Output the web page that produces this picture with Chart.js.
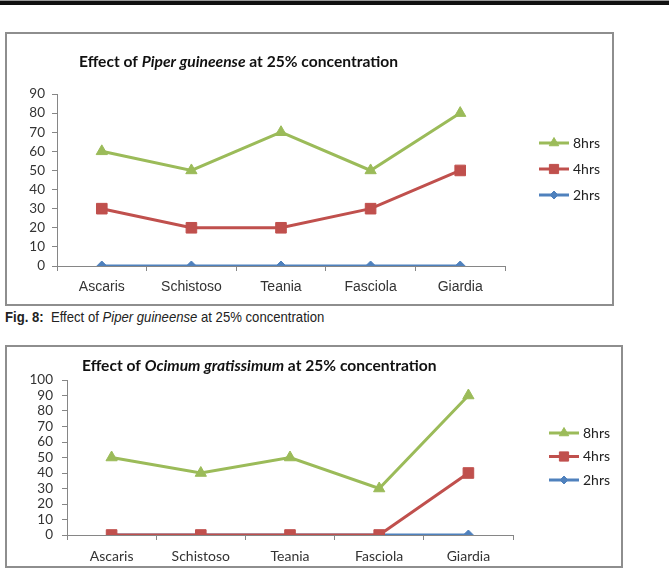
<!DOCTYPE html>
<html lang="en">
<head>
<meta charset="UTF-8" />
<title>Effect of Piper guineense and Ocimum gratissimum at 25% concentration</title>
<style>
  body {
    margin: 0;
    background: #fff;
    width: 669px; height: 571px;
    overflow: hidden;
    position: relative;
    font-family: Lato, sans-serif;
  }
  .rule {
    position: absolute; left: 0; top: 0;
    width: 669px; height: 5px;
    background: #111;
    border-top: 1px solid #9a9a9a;
    box-sizing: border-box;
  }
  .box {
    position: absolute;
    border: 2px solid #8e8e8e;
    box-sizing: border-box;
    background: #fff;
  }
  #box1 { left: 5px; top: 32px; width: 609px; height: 274px; }
  #box2 { left: 5px; top: 345px; width: 618px; height: 223px; }
  .box canvas { display: block; }
  /* the paper uses Arial Narrow; squeeze Liberation Sans to match */
  .caption {
    position: absolute; left: 5px; top: 308px;
    font-family: "Liberation Sans Narrow", "Arial Narrow", "Liberation Sans", sans-serif;
    font-size: 15px; line-height: 17px;
    color: #222;
    white-space: nowrap;
    transform: scaleX(0.875);
    transform-origin: left center;
  }
</style>
</head>
<body>
<div class="rule"></div>
<div class="box" id="box1"><canvas id="chart1" width="605" height="270"></canvas></div>
<div class="caption"><b>Fig. 8:</b>&nbsp; Effect of <i>Piper guineense</i> at 25% concentration</div>
<div class="box" id="box2"><canvas id="chart2" width="614" height="219"></canvas></div>

<script src="https://cdn.jsdelivr.net/npm/chart.js"></script>
<script>
// Data
const categories = ['Ascaris', 'Schistoso', 'Teania', 'Fasciola', 'Giardia'];
const seriesNames = ['8hrs', '4hrs', '2hrs'];

const piper8 = [60, 50, 70, 50, 80];
const piper4 = [30, 20, 20, 30, 50];
const piper2 = [0, 0, 0, 0, 0];
const piperTicks = [0, 10, 20, 30, 40, 50, 60, 70, 80, 90];

const ocimum8 = [50, 40, 50, 30, 90];
const ocimum4 = [0, 0, 0, 0, 40];
const ocimum2 = [0, 0, 0, 0, 0];
const ocimumTicks = [0, 10, 20, 30, 40, 50, 60, 70, 80, 90, 100];

// Excel 2007 default series look
const seriesStyle = [
  { color: '#9bbb59', pointStyle: 'triangle', radius: 6.5 },
  { color: '#c0504d', pointStyle: 'rect', radius: 7.5 },
  { color: '#4f81bd', pointStyle: 'rectRot', radius: 5 }
];

// draws the mixed bold/italic title and the Excel style legend
const excelDecor = {
  id: 'excelDecor',
  afterDraw(chart, args, opts) {
    const ctx = chart.ctx;
    ctx.save();
    ctx.textBaseline = 'middle';
    ctx.textAlign = 'left';
    ctx.fillStyle = '#111';
    let x = opts.titleX;
    opts.title.forEach(part => {
      ctx.font = (part.italic ? 'italic ' : '') + 'bold ' + opts.titleSize + 'px Lato';
      ctx.fillText(part.text, x, opts.titleY);
      x += ctx.measureText(part.text).width;
    });

    chart.data.datasets.forEach((ds, i) => {
      const y = opts.legendY + i * opts.legendGap;
      ctx.strokeStyle = ds.borderColor;
      ctx.lineWidth = 3;
      ctx.beginPath();
      ctx.moveTo(opts.legendX, y);
      ctx.lineTo(opts.legendX + 30, y);
      ctx.stroke();
      ctx.fillStyle = ds.backgroundColor;
      ctx.lineWidth = 1;
      Chart.helpers.drawPoint(ctx, {
        pointStyle: ds.pointStyle, rotation: 0,
        radius: ds.pointRadius - 1, borderWidth: 1
      }, opts.legendX + 15, y);
      ctx.fillStyle = '#222';
      ctx.font = '14px Lato';
      ctx.fillText(ds.label, opts.legendX + 34, y);
    });
    ctx.restore();
  }
};

function makeChart(id, values, ticks, geo) {
  const axisColor = '#868686';
  return new Chart(document.getElementById(id), {
    type: 'line',
    data: {
      labels: categories,
      datasets: values.map((v, i) => ({
        label: seriesNames[i],
        data: v,
        borderColor: seriesStyle[i].color,
        backgroundColor: seriesStyle[i].color,
        borderWidth: 3,
        tension: 0,
        pointStyle: seriesStyle[i].pointStyle,
        pointRadius: seriesStyle[i].radius,
        pointBorderWidth: 1,
        fill: false
      }))
    },
    options: {
      responsive: false,
      animation: false,
      layout: { padding: { left: 0, right: geo.padRight, top: geo.padTop, bottom: 0 } },
      plugins: {
        legend: { display: false },
        title: { display: false },
        tooltip: { enabled: false },
        excelDecor: geo.decor
      },
      scales: {
        x: {
          offset: true,
          afterFit: s => { s.height = geo.xHeight; },
          grid: { offset: true, drawOnChartArea: false, tickLength: 5, color: axisColor },
          border: { color: axisColor, width: 1 },
          ticks: {
            color: '#333',
            padding: geo.xPad,
            maxRotation: 0,
            autoSkip: false,
            font: geo.xFont
          }
        },
        y: {
          min: ticks[0],
          max: ticks[ticks.length - 1],
          afterFit: s => { s.width = geo.yWidth; },
          grid: { drawOnChartArea: false, tickLength: 5, color: axisColor },
          border: { color: axisColor, width: 1 },
          ticks: {
            stepSize: ticks[1] - ticks[0],
            autoSkip: false,
            color: '#333',
            padding: geo.yPad,
            font: { family: 'Lato', size: 13.5 }
          }
        }
      }
    },
    plugins: [excelDecor]
  });
}

makeChart('chart1', [piper8, piper4, piper2], piperTicks, {
  padRight: 107, padTop: 60, xHeight: 38, yWidth: 50, xPad: 8, yPad: 7,
  xFont: { family: '"Liberation Sans Narrow", "Arial Narrow", "Liberation Sans", sans-serif', size: 14 },
  decor: {
    title: [{ text: 'Effect of ' }, { text: 'Piper guineense', italic: true }, { text: ' at 25% concentration' }],
    titleX: 72, titleY: 28, titleSize: 15.6,
    legendX: 532, legendY: 109, legendGap: 26
  }
});

makeChart('chart2', [ocimum8, ocimum4, ocimum2], ocimumTicks, {
  padRight: 108, padTop: 33, xHeight: 31, yWidth: 60, xPad: 8, yPad: 9,
  xFont: { family: 'Lato', size: 14 },
  decor: {
    title: [{ text: 'Effect of ' }, { text: 'Ocimum gratissimum', italic: true }, { text: ' at 25% concentration' }],
    titleX: 75, titleY: 19, titleSize: 15.6,
    legendX: 542, legendY: 86, legendGap: 23.5
  }
});
</script>
</body>
</html>
